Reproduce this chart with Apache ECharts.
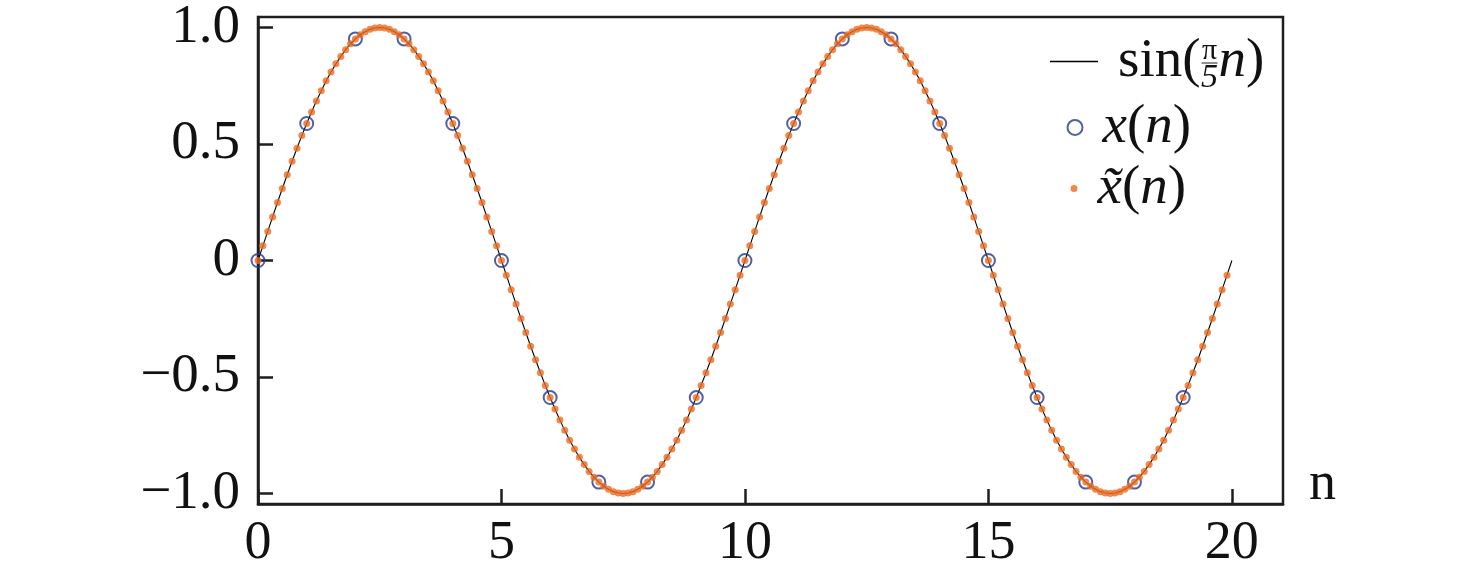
<!DOCTYPE html>
<html>
<head>
<meta charset="utf-8">
<script src="https://cdn.jsdelivr.net/npm/echarts@6/dist/echarts.min.js"></script>
<style>
html,body{margin:0;padding:0;background:#fff;}
#chart{width:1476px;height:580px;}
</style>
</head>
<body>
<div id="chart"></div>
<script>
// ---- data ----
// sample positions n (integer samples 0..19)
const sampleN = [0,1,2,3,4,5,6,7,8,9,10,11,12,13,14,15,16,17,18,19];
// x(n) values (blue circles)
const sampleValues = [0,0.588,0.951,0.951,0.588,0,-0.588,-0.951,-0.951,-0.588,
                      0,0.588,0.951,0.951,0.588,0,-0.588,-0.951,-0.951,-0.588];
// dense curve values at n = 0, 0.1, ..., 20 (black line sin(pi n/5))
const curveStep = 0.1;
const curveValues = [
 0,0.063,0.125,0.187,0.249,0.309,0.368,0.426,0.482,0.536,
 0.588,0.637,0.685,0.729,0.771,0.809,0.844,0.876,0.905,0.930,
 0.951,0.969,0.982,0.992,0.998,1.000,0.998,0.992,0.982,0.969,
 0.951,0.930,0.905,0.876,0.844,0.809,0.771,0.729,0.685,0.637,
 0.588,0.536,0.482,0.426,0.368,0.309,0.249,0.187,0.125,0.063,
 0,-0.063,-0.125,-0.187,-0.249,-0.309,-0.368,-0.426,-0.482,-0.536,
 -0.588,-0.637,-0.685,-0.729,-0.771,-0.809,-0.844,-0.876,-0.905,-0.930,
 -0.951,-0.969,-0.982,-0.992,-0.998,-1.000,-0.998,-0.992,-0.982,-0.969,
 -0.951,-0.930,-0.905,-0.876,-0.844,-0.809,-0.771,-0.729,-0.685,-0.637,
 -0.588,-0.536,-0.482,-0.426,-0.368,-0.309,-0.249,-0.187,-0.125,-0.063,
 0,0.063,0.125,0.187,0.249,0.309,0.368,0.426,0.482,0.536,
 0.588,0.637,0.685,0.729,0.771,0.809,0.844,0.876,0.905,0.930,
 0.951,0.969,0.982,0.992,0.998,1.000,0.998,0.992,0.982,0.969,
 0.951,0.930,0.905,0.876,0.844,0.809,0.771,0.729,0.685,0.637,
 0.588,0.536,0.482,0.426,0.368,0.309,0.249,0.187,0.125,0.063,
 0,-0.063,-0.125,-0.187,-0.249,-0.309,-0.368,-0.426,-0.482,-0.536,
 -0.588,-0.637,-0.685,-0.729,-0.771,-0.809,-0.844,-0.876,-0.905,-0.930,
 -0.951,-0.969,-0.982,-0.992,-0.998,-1.000,-0.998,-0.992,-0.982,-0.969,
 -0.951,-0.930,-0.905,-0.876,-0.844,-0.809,-0.771,-0.729,-0.685,-0.637,
 -0.588,-0.536,-0.482,-0.426,-0.368,-0.309,-0.249,-0.187,-0.125,-0.063,
 0
];
// x~(n) reconstructed points: lie on the curve at n = 0 .. 19.9
const reconCount = 200;
// tick labels
const xTicks = [0,5,10,15,20];
const xTickLabels = ['0','5','10','15','20'];
const yTicks = [-1,-0.5,0,0.5,1];
const yTickLabels = ['\u22121.0','\u22120.5','0','0.5','1.0'];
const seriesNames = ['sin(\u03c0/5 n)','x(n)','x\u0303(n)'];

// ---- build ----
const curveData = curveValues.map((v,i)=>[+(i*curveStep).toFixed(2), v]);
const reconData = curveData.slice(0, reconCount);
const sampleData = sampleN.map((n,i)=>[n, sampleValues[i]]);

const FONT = '"Liberation Serif","Times New Roman",serif';
const AX = '#1e1e1e';
const ORANGE = '#ec6b20';
const BLUE = '#233a8f';
const LFS = 55;   // legend font size
const GAP = 18;   // room for the stacked fraction

const rich = {
  s:{fontFamily:FONT,fontSize:LFS,color:'#111',lineHeight:60},
  i:{fontFamily:FONT,fontSize:LFS,color:'#111',fontStyle:'italic',lineHeight:60},
  g:{width:GAP,lineHeight:60}
};
function legendFmt(name){
  if(name===seriesNames[0]) return '{s|sin(}{g|}{i|n}{s|)}';
  if(name===seriesNames[1]) return '{i|x}{s|(}{i|n}{s|)}';
  return '{i|x\u0303}{s|(}{i|n}{s|)}';
}
function mkLegend(item, left, top, w, h){
  return {
    data:[item], left:left, top:top, padding:0,
    itemWidth:w, itemHeight:h, selectedMode:false,
    formatter:legendFmt,
    textStyle:{rich:rich, padding:[0,0,0,15]}
  };
}

// measure "sin(" to place the stacked fraction right after it
const mctx = document.createElement('canvas').getContext('2d');
mctx.font = LFS + 'px ' + FONT;
const textStart = 1050 + 48 + 5 + 15;
const fracLeft = textStart + mctx.measureText('sin(').width;
const fracMid = fracLeft + GAP/2;

const chart = echarts.init(document.getElementById('chart'), null, {renderer:'canvas'});
chart.setOption({
  animation:false,
  backgroundColor:'#fff',
  grid:{left:258,right:193,top:16.5,bottom:76,show:true,borderColor:AX,borderWidth:2.5,backgroundColor:'transparent'},
  xAxis:{
    type:'value', min:0, max:21.05,
    name:'n', nameLocation:'end', nameGap:26,
    nameTextStyle:{fontFamily:FONT,fontSize:54,color:'#111',align:'left',verticalAlign:'bottom',lineHeight:38},
    axisLine:{show:true,onZero:false,lineStyle:{color:AX,width:2.5}},
    axisTick:{show:true,inside:true,length:15,lineStyle:{color:AX,width:2.5},customValues:xTicks},
    axisLabel:{customValues:xTicks,margin:13,fontFamily:FONT,fontSize:54,color:'#111',
      formatter:(v)=>xTickLabels[xTicks.indexOf(v)] ?? ''},
    splitLine:{show:false}
  },
  yAxis:{
    type:'value', min:-1.045, max:1.045,
    axisLine:{show:true,onZero:false,lineStyle:{color:AX,width:2.5}},
    axisTick:{show:true,inside:true,length:15,lineStyle:{color:AX,width:2.5},customValues:yTicks},
    axisLabel:{customValues:yTicks,margin:18,fontFamily:FONT,fontSize:55,color:'#111',
      formatter:(v)=>yTickLabels[yTicks.indexOf(v)] ?? ''},
    splitLine:{show:false}
  },
  legend:[
    mkLegend({name:seriesNames[0],icon:'rect',itemStyle:{color:'#000'}}, 1050, 34, 48, 1.5),
    mkLegend({name:seriesNames[1]}, 1066.5, 100, 15, 15),
    mkLegend({name:seriesNames[2]}, 1070.5, 161, 7, 7)
  ],
  series:[
    {name:seriesNames[0],type:'line',data:curveData,symbol:'none',showSymbol:false,
     lineStyle:{color:'#000',width:1.1},itemStyle:{color:'#000'},z:2},
    {name:seriesNames[1],type:'scatter',data:sampleData,symbol:'circle',symbolSize:13,
     itemStyle:{color:'rgba(0,0,0,0)',borderColor:BLUE,borderWidth:2},z:3},
    {name:seriesNames[2],type:'scatter',data:reconData,symbol:'circle',symbolSize:7,
     itemStyle:{color:ORANGE},z:4}
  ],
  graphic:[
    {type:'text',x:fracMid,y:51,style:{text:'\u03c0',font:'30px '+FONT,fill:'#111',align:'center',verticalAlign:'middle'}},
    {type:'line',shape:{x1:fracMid-8,y1:63,x2:fracMid+8,y2:63},style:{stroke:'#444',lineWidth:1.2}},
    {type:'text',x:fracMid,y:78,style:{text:'5',font:'italic 34px '+FONT,fill:'#111',align:'center',verticalAlign:'middle'}}
  ]
});
</script>
</body>
</html>
